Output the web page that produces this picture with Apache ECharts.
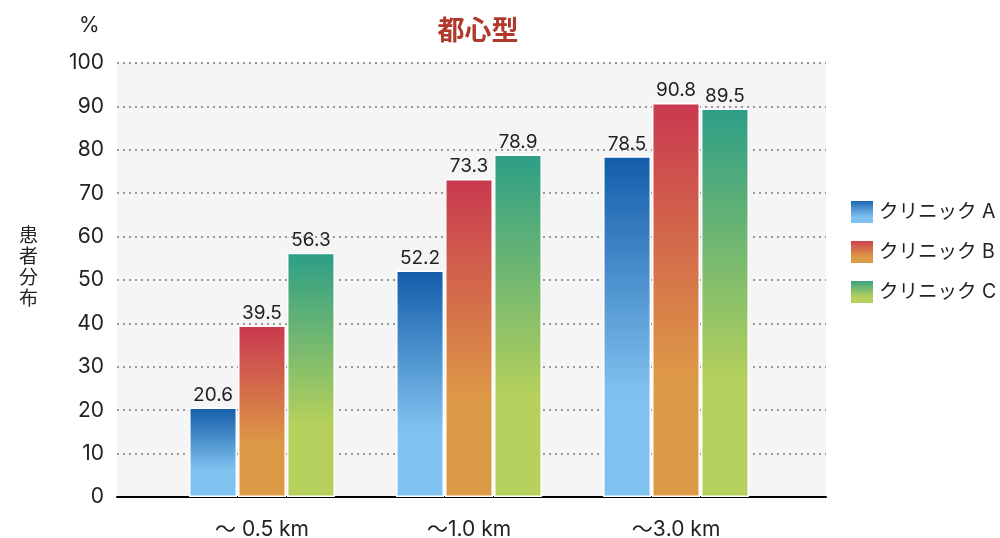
<!DOCTYPE html>
<html><head><meta charset="utf-8">
<script src="https://cdn.jsdelivr.net/npm/echarts@6/dist/echarts.min.js"></script>
<style>html,body{margin:0;padding:0;background:#fff}#c{width:1000px;height:538px}</style>
</head><body><div id="c"></div>
<script>
const categories = ['〜 0.5 km', '〜1.0 km', '〜3.0 km'];
const seriesNames = ['クリニック A', 'クリニック B', 'クリニック C'];
const clinicA = [20.6, 52.2, 78.5];
const clinicB = [39.5, 73.3, 90.8];
const clinicC = [56.3, 78.9, 89.5];
const yTicks = [0, 10, 20, 30, 40, 50, 60, 70, 80, 90, 100];

const font = "'Noto Sans CJK JP', 'Noto Sans', sans-serif";
const latin = "Inter, 'Noto Sans CJK JP', sans-serif";
function grad(top, bottom) {
  return new echarts.graphic.LinearGradient(0, 0, 0, 1, [
    {offset: 0, color: top}, {offset: 0.7, color: bottom}, {offset: 1, color: bottom}
  ]);
}
const colors = [grad('#135ca9', '#80c2ef'), grad('#c9384f', '#dd9a46'), grad('#2c9e86', '#b5d05c')];
const values = [clinicA, clinicB, clinicC];

const chart = echarts.init(document.getElementById('c'), null, {renderer: 'canvas'});
chart.setOption({
  animation: false,
  textStyle: {fontFamily: latin},
  title: {
    text: '都心型', left: 473, top: 11, textAlign: 'center',
    textStyle: {color: '#b0392c', fontSize: 27, fontWeight: 'bold', fontFamily: font}
  },
  graphic: [
    {type: 'text', left: 79, top: 15, style: {text: '%', fill: '#222', font: '21px ' + latin}},
    {type: 'text', left: 19, top: 224, style: {text: '患\n者\n分\n布', fill: '#222', font: '19px ' + font, lineHeight: 21}}
  ],
  legend: {
    orient: 'vertical', left: 844, top: 194, itemWidth: 24, itemHeight: 24, itemGap: 14,
    icon: 'rect',
    textStyle: {fontSize: 19.5, color: '#222', fontFamily: latin},
    data: seriesNames
  },
  grid: [
    {left: 117, right: 174, top: 63, bottom: 41, show: true, backgroundColor: '#f5f5f5', borderWidth: 0, outerBoundsMode: 'none', containLabel: false},
    {left: 158.5, width: 621, top: 63, bottom: 41, outerBoundsMode: 'none', containLabel: false}
  ],
  xAxis: [
    {type: 'category', gridIndex: 0, data: [''], axisLine: {lineStyle: {color: '#000', width: 2}},
      axisTick: {show: false}, axisLabel: {show: false}},
    {type: 'category', gridIndex: 1, data: categories, axisLine: {show: false}, axisTick: {show: false},
      axisLabel: {fontSize: 21, color: '#222', margin: 22, fontFamily: latin}}
  ],
  yAxis: [
    {type: 'value', gridIndex: 0, min: 0, max: 100, interval: 10,
      axisLine: {show: false}, axisTick: {show: false},
      axisLabel: {fontSize: 21, color: '#222', margin: 13, fontFamily: latin,
        formatter: v => yTicks.includes(v) ? String(v) : ''},
      splitLine: {lineStyle: {color: '#999', type: [2, 4], width: 2}}},
    {type: 'value', gridIndex: 1, min: 0, max: 100, show: false, splitLine: {show: false}}
  ],
  series: seriesNames.map((n, i) => ({
    name: n, type: 'bar', xAxisIndex: 1, yAxisIndex: 1, data: values[i],
    barWidth: 48, barGap: '2%',
    itemStyle: {color: colors[i], borderColor: '#fff', borderWidth: 1.5},
    label: {show: true, position: 'top', distance: 3, fontSize: 19, color: '#222', fontFamily: latin,
      formatter: p => p.value.toFixed(1)}
  }))
});
</script></body></html>
